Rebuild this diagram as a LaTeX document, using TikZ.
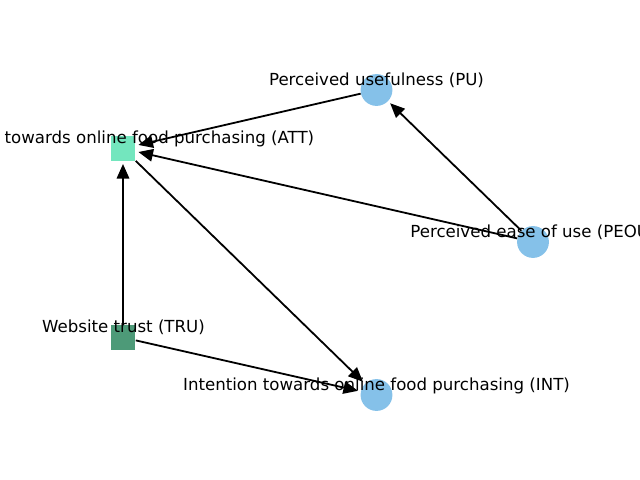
\documentclass[tikz,border=0pt]{standalone}
\usepackage{fontspec}
\setmainfont{DejaVu Sans}
\usepackage{xcolor}
\usepackage{tikz}
\usetikzlibrary{arrows.meta}
\definecolor{circblue}{HTML}{85C1E9}
\definecolor{attgreen}{HTML}{73E6BE}
\definecolor{trugreen}{HTML}{4D9A78}
\tikzset{
  circ/.style={circle,fill=circblue,inner sep=0pt,minimum size=23pt},
  sq/.style={rectangle,inner sep=0pt,minimum size=18pt},
  lbl/.style={anchor=base,inner sep=0pt,font=\fontsize{12}{14}\selectfont},
  edge/.style={-{Triangle[length=10.5pt,width=9pt]},line width=1.3pt,shorten >=2pt}
}

\begin{document}
\begin{tikzpicture}[x=0.01in,y=-0.01in]
                    \useasboundingbox (0,0) rectangle (640,480);
                    \clip (0,0) rectangle (640,480);
                    \node[sq,fill=attgreen] (ATT) at (123,148.5) {};
                    \node[sq,fill=trugreen] (TRU) at (123,337.5) {};
                    \node[circ] (PU) at (376.5,90) {};
                    \node[circ] (PEOU) at (533,242) {};
                    \node[circ] (INT) at (376.5,395) {};
                    \draw [edge] (PU) -- (ATT);
                    \draw [edge] (PEOU) -- (ATT);
                    \draw [edge] (PEOU) -- (PU);
                    \draw [edge] (TRU) -- (ATT);
                    \draw [edge] (TRU) -- (INT);
                    \draw [edge] (ATT) -- (INT);
                    \node[lbl] (ATTtxt) at (123.5,144) {Attitude towards online food purchasing (ATT)};
                    \node[lbl] (TRUtxt) at (123.5,333) {Website trust (TRU)};
                    \node[lbl] (PUtxt) at (376.5,85.5) {Perceived usefulness (PU)};
                    \node[lbl] (PEOUtxt) at (533,237.5) {Perceived ease of use (PEOU)};
                    \node[lbl] (INTtxt) at (376.5,390.5) {Intention towards online food purchasing (INT)};
                \end{tikzpicture}
\end{document}
